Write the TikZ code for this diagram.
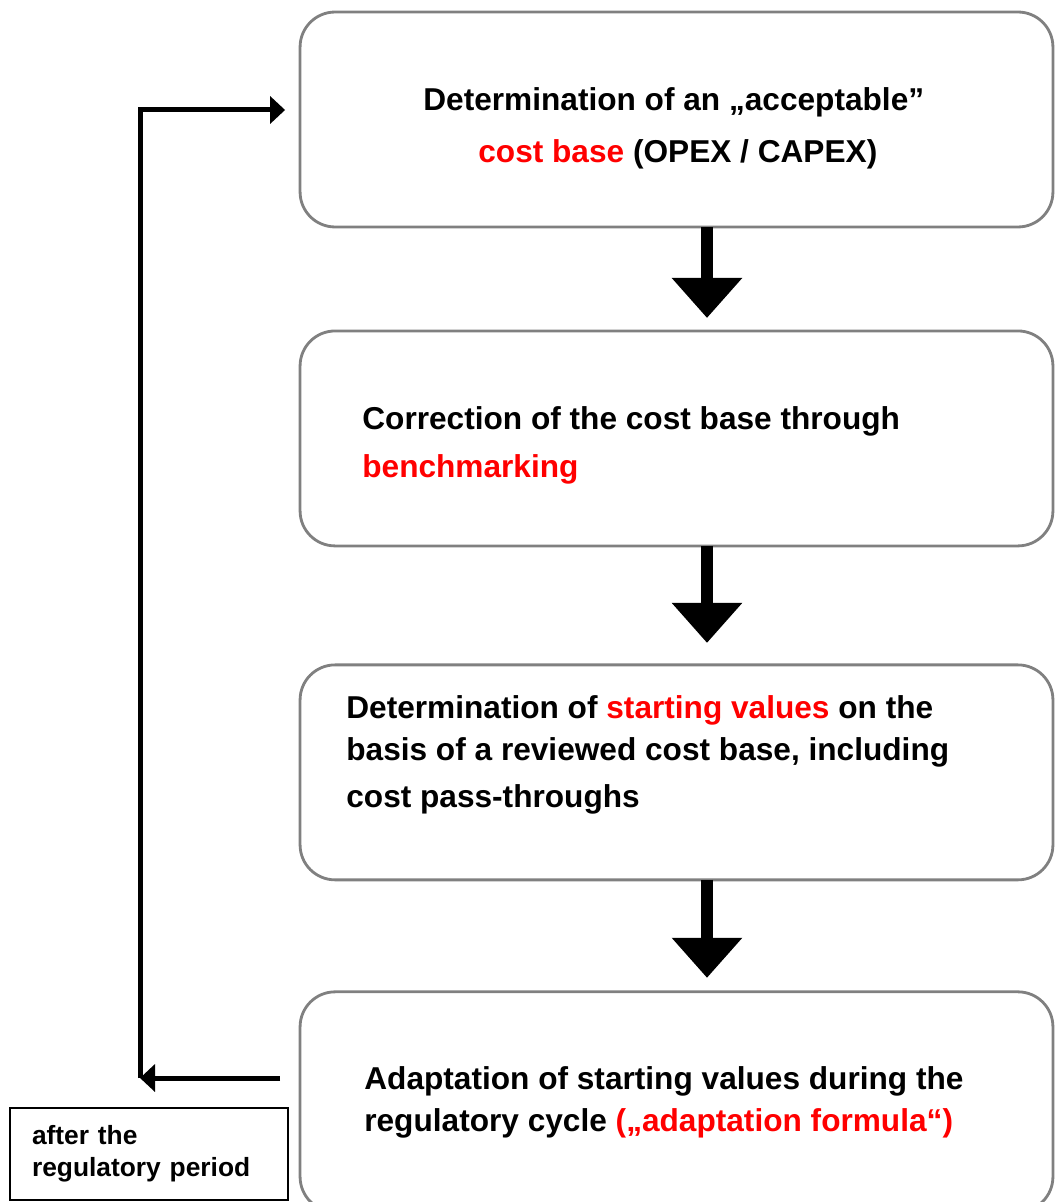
\documentclass[tikz,border=0pt]{standalone}
\usepackage{fontspec}
\setmainfont{Liberation Sans}
\usepackage{tikz}
\usetikzlibrary{arrows.meta,positioning}
\definecolor{boxgray}{RGB}{128,128,128}
\definecolor{hired}{RGB}{255,0,0}
\tikzset{stage/.style={draw=boxgray,line width=1.6pt,rounded corners=0.7cm,fill=white,minimum width=15.06cm,minimum height=4.3cm,inner sep=0pt,outer sep=0pt},
            txt/.style={anchor=base west,inner sep=0pt,font=\bfseries\fontsize{18}{22}\selectfont},
            flow/.style={line width=0.24cm,-{Triangle[width=1.36cm,length=0.8cm]}},
            back/.style={line width=0.1cm,-{Triangle[width=0.54cm,length=0.3cm]}},
            note/.style={draw,line width=0.9pt,minimum width=5.56cm,minimum height=1.84cm,inner xsep=0.44cm,align=left,text width=4.68cm,font=\bfseries\fontsize{15}{18}\selectfont}
            }
\newcommand{\hl}[1]{\textcolor{hired}{#1}}

\begin{document}
\begin{tikzpicture}[x=0.02cm,y=-0.02cm]
    \useasboundingbox (0,0) rectangle (1055,1202);

    \node[stage] (box1) at (676.5,119.5) {};
    \node[stage] (box2) [below = 2.08cm of box1] {};
    \node[stage] (box3) [below = 2.38cm of box2] {};
    \node[stage,minimum height=4.4cm] (box4) [below = 2.24cm of box3] {};

    \node[txt] (box1a) at (423,111) {Determination of an „acceptable”};
    \node[txt] (box1b) at (478,163) {\hl{cost base} (OPEX / CAPEX)};
    \node[txt] (box2a) at (362,429) {Correction of the cost base through};
    \node[txt] (box2b) at (362,477) {\hl{benchmarking}};
    \node[txt] (box3a) at (346,718) {Determination of \hl{starting values} on the};
    \node[txt] (box3b) at (346,760) {basis of a reviewed cost base, including};
    \node[txt] (box3c) at (346,807) {cost pass-throughs};
    \node[txt] (box4a) at (364,1089) {Adaptation of starting values during the};
    \node[txt] (box4b) at (364,1131) {regulatory cycle \hl{(„adaptation formula“)}};

    \node[note] (after) at (149,1154) {after the\\regulatory period};

    \draw[flow] ([xshift=0.61cm]box1.south) -- ([xshift=0.61cm,yshift=0.26cm]box2.north);
    \draw[flow] ([xshift=0.61cm]box2.south) -- ([xshift=0.61cm,yshift=0.44cm]box3.north);
    \draw[flow] ([xshift=0.61cm]box3.south) -- ([xshift=0.61cm,yshift=0.28cm]box4.north);

    \coordinate (turn) at (140,1078);
    \coordinate (ret) at ([xshift=-0.4cm]box4.west);
    \draw[back] (turn -| ret) -- (turn);
    \draw[back] (turn) |- ([xshift=-0.3cm,yshift=0.19cm]box1.west);

\end{tikzpicture}
\end{document}
